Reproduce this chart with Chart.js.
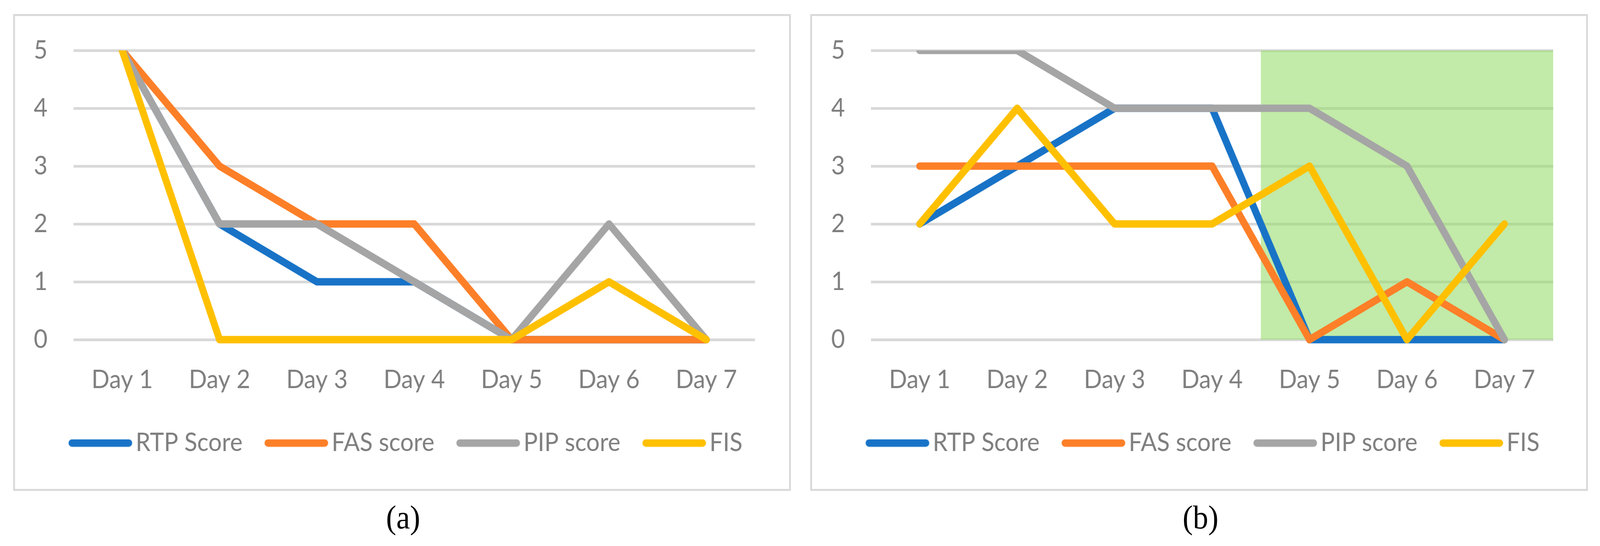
<!DOCTYPE html>
<html>
<head>
<meta charset="utf-8">
<script src="https://cdn.jsdelivr.net/npm/chart.js@4.4.1/dist/chart.umd.min.js"></script>
<style>
    html, body { margin: 0; padding: 0; background: #fff; overflow: hidden; }
    #page { width: 4374px; height: 1397px; position: absolute; left: 0; top: 0; transform-origin: 0 0; }
    .panel { position: absolute; box-sizing: border-box; border: 5px solid #d9d9d9; }
    .holder { position: absolute; top: 0; width: 2187px; height: 1397px; }
    .caption { position: absolute; top: 1274px; width: 300px; text-align: center;
               font-family: 'Liberation Serif', 'DejaVu Serif', serif; font-size: 84px; color: #000; line-height: 100px; }
</style>
</head>
<body>
<div id="page">
    <div class="panel" style="left:36px; top:36px; width:2126px; height:1220px;"></div>
    <div class="panel" style="left:2215px; top:36px; width:2126px; height:1220px;"></div>
    <div class="holder" style="left:0px;"><canvas id="chartA"></canvas></div>
    <div class="holder" style="left:2187px;"><canvas id="chartB"></canvas></div>
    <div class="caption" style="left:952px;">(a)</div>
    <div class="caption" style="left:3132px;">(b)</div>
</div>

<script>
// 데이터
const days = ['Day 1', 'Day 2', 'Day 3', 'Day 4', 'Day 5', 'Day 6', 'Day 7'];
const seriesNames = ['RTP Score', 'FAS score', 'PIP score', 'FIS'];
const seriesColors = ['#1873c7', '#fd7f28', '#a5a5a5', '#ffc000'];
const yMin = 0;
const yMax = 5;

// (a)
const rtpA = [5, 2, 1, 1, 0, 0, 0];
const fasA = [5, 3, 2, 2, 0, 0, 0];
const pipA = [5, 2, 2, 1, 0, 2, 0];
const fisA = [5, 0, 0, 0, 0, 1, 0];

// (b)
const rtpB = [2, 3, 4, 4, 0, 0, 0];
const fasB = [3, 3, 3, 3, 0, 1, 0];
const pipB = [5, 5, 4, 4, 4, 3, 0];
const fisB = [2, 4, 2, 2, 3, 0, 2];
const shadedDaysB = ['Day 5', 'Day 6', 'Day 7'];

// 창 크기에 맞게 페이지 늘리기
const scaleX = window.innerWidth / 4374;
const scaleY = window.innerHeight / 1397;
document.getElementById('page').style.transform = 'scale(' + scaleX + ',' + scaleY + ')';

Chart.defaults.font.family = 'Lato';
Chart.defaults.color = '#7f7f7f';

// 범례용 선 모양 이미지
function legendLine(color) {
    const c = document.createElement('canvas');
    c.width = 175;
    c.height = 20;
    const g = c.getContext('2d');
    g.strokeStyle = color;
    g.lineWidth = 19;
    g.lineCap = 'round';
    g.beginPath();
    g.moveTo(10, 10);
    g.lineTo(165, 10);
    g.stroke();
    return c;
}
const legendImages = seriesColors.map(legendLine);

// 초록 배경 영역
const shadePlugin = {
    id: 'shade',
    beforeDatasetsDraw(chart, args, opts) {
        if (!opts.days || !opts.days.length) return;
        const x = chart.scales.x, y = chart.scales.y;
        const first = days.indexOf(opts.days[0]);
        const last = days.indexOf(opts.days[opts.days.length - 1]);
        const left = x.getPixelForValue(first - 0.5);
        const right = x.getPixelForValue(last + 0.5);
        const top = y.getPixelForValue(yMax);
        const bottom = y.getPixelForValue(yMin);
        const ctx = chart.ctx;
        ctx.save();
        ctx.fillStyle = 'rgba(144, 217, 97, 0.55)';
        ctx.fillRect(left, top, right - left, bottom - top);
        ctx.restore();
    }
};

// 범례 가운데 위치 이동
const legendShift = {
    id: 'legendShift',
    afterLayout(chart, args, opts) {
        const lg = chart.legend;
        if (!lg || opts.center == null) return;
        const dx = opts.center - (lg.left + lg.right) / 2;
        lg.left += dx;
        lg.right += dx;
    }
};

function makeChart(canvasId, values, layout, shaded) {
    const datasets = values.map((data, i) => ({
        label: seriesNames[i],
        data: data,
        borderColor: seriesColors[i],
        backgroundColor: seriesColors[i],
        borderWidth: 19,
        borderCapStyle: 'round',
        borderJoinStyle: 'round',
        pointRadius: 0,
        pointHoverRadius: 0,
        tension: 0,
        order: values.length - i,
        clip: { left: false, top: 0, right: false, bottom: false }
    }));

    const canvas = document.getElementById(canvasId);
    canvas.style.width = '2187px';
    canvas.style.height = '1397px';

    return new Chart(canvas, {
        type: 'line',
        data: { labels: days, datasets: datasets },
        options: {
            responsive: false,
            maintainAspectRatio: false,
            animation: false,
            devicePixelRatio: 1,
            layout: { padding: { left: 0, right: layout.right, top: 129, bottom: 221 } },
            scales: {
                x: {
                    offset: true,
                    grid: { display: false },
                    border: { display: false },
                    ticks: { font: { size: 65 }, padding: 56, color: '#7f7f7f', maxRotation: 0 },
                    afterFit(scale) { scale.height = 149; }
                },
                y: {
                    min: yMin,
                    max: yMax,
                    grid: { color: '#d9d9d9', lineWidth: 7, drawTicks: false },
                    border: { display: false },
                    ticks: { stepSize: 1, font: { size: 65 }, padding: 71, color: '#7f7f7f' },
                    afterFit(scale) { scale.width = layout.axis; }
                }
            },
            plugins: {
                shade: { days: shaded },
                legendShift: { center: layout.legendCenter },
                tooltip: { enabled: false },
                legend: {
                    position: 'bottom',
                    labels: {
                        usePointStyle: true,
                        pointStyleWidth: 128,
                        boxHeight: 19,
                        padding: 83,
                        font: { size: 65 },
                        color: '#7f7f7f',
                        sort: (a, b) => a.datasetIndex - b.datasetIndex,
                        generateLabels(chart) {
                            const items = Chart.defaults.plugins.legend.labels.generateLabels(chart);
                            items.forEach(it => {
                                it.lineWidth = 0;
                                it.pointStyle = legendImages[it.datasetIndex];
                            });
                            return items;
                        }
                    }
                }
            }
        },
        plugins: [shadePlugin, legendShift]
    });
}

makeChart('chartA', [rtpA, fasA, pipA, fisA], { axis: 201, right: 123, legendCenter: 1120 }, []);
makeChart('chartB', [rtpB, fasB, pipB, fisB], { axis: 194, right: 128, legendCenter: 1112 }, shadedDaysB);
</script>
</body>
</html>
